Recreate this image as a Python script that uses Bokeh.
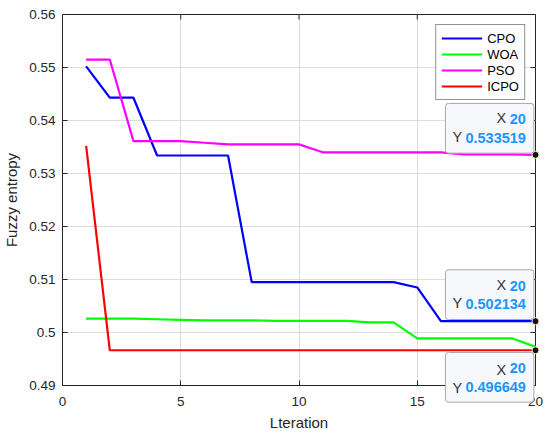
import math
from bokeh.plotting import figure
from bokeh.models import FixedTicker
from bokeh.core.properties import value
from bokeh.embed import file_html
from bokeh.resources import INLINE

# ---------------- data ----------------
iterations = list(range(1, 21))
cpo = [0.5502, 0.5443, 0.5443, 0.5334, 0.5334, 0.5334, 0.5334, 0.5095, 0.5095, 0.5095,
       0.5095, 0.5095, 0.5095, 0.5095, 0.5085, 0.502134, 0.502134, 0.502134, 0.502134, 0.502134]
woa = [0.5026, 0.5026, 0.5026, 0.5025, 0.5024, 0.5023, 0.5023, 0.5023, 0.5022, 0.5022,
       0.5022, 0.5022, 0.5019, 0.5019, 0.4989, 0.4989, 0.4989, 0.4989, 0.4989, 0.4973]
pso = [0.5515, 0.5515, 0.5361, 0.5361, 0.5361, 0.5358, 0.5355, 0.5355, 0.5355, 0.5355,
       0.5340, 0.5340, 0.5340, 0.5340, 0.5340, 0.5340, 0.5336, 0.5336, 0.5336, 0.533519]
icpo = [0.5352, 0.496649, 0.496649, 0.496649, 0.496649, 0.496649, 0.496649, 0.496649, 0.496649, 0.496649,
        0.496649, 0.496649, 0.496649, 0.496649, 0.496649, 0.496649, 0.496649, 0.496649, 0.496649, 0.496649]

series_names = ["CPO", "WOA", "PSO", "ICPO"]
series_values = [cpo, woa, pso, icpo]
series_colors = ["#0000ff", "#00ff00", "#ff00ff", "#ff0000"]

x_ticks = [0, 5, 10, 15, 20]
x_labels = ["0", "5", "10", "15", "20"]
y_ticks = [0.49, 0.5, 0.51, 0.52, 0.53, 0.54, 0.55, 0.56]
y_labels = ["0.49", "0.5", "0.51", "0.52", "0.53", "0.54", "0.55", "0.56"]

tip_x = [20, 20, 20]
tip_y = [0.533519, 0.502134, 0.496649]
tip_side = ["above", "above", "below"]

X_MIN, X_MAX = 0, 20
Y_MIN, Y_MAX = 0.49, 0.56

FONT = "Liberation Sans"
DARK = "#262626"

p = figure(frame_width=473, frame_height=371, output_backend="svg", toolbar_location=None,
           x_range=(X_MIN, X_MAX), y_range=(Y_MIN, Y_MAX),
           min_border_left=53, min_border_right=8, min_border_top=14, min_border_bottom=43,
           x_axis_label="Lteration", y_axis_label="Fuzzy entropy")
p.background_fill_color = "white"
p.border_fill_color = "white"
p.outline_line_color = DARK
p.outline_line_width = 1

p.grid.grid_line_color = "#dcdcdc"
p.grid.grid_line_width = 1

for name, vals, col in zip(series_names, series_values, series_colors):
    p.line(iterations, vals, line_color=col, line_width=2.2, legend_label=name)

# axes
p.xaxis.ticker = FixedTicker(ticks=x_ticks)
p.xaxis.major_label_overrides = dict(zip(x_ticks, x_labels))
p.yaxis.ticker = FixedTicker(ticks=y_ticks)
p.yaxis.major_label_overrides = dict(zip(y_ticks, y_labels))
p.xgrid.ticker = FixedTicker(ticks=x_ticks)
p.ygrid.ticker = FixedTicker(ticks=y_ticks)
for ax in p.xaxis + p.yaxis:
    ax.major_tick_in = 5
    ax.major_tick_out = 0
    ax.minor_tick_in = 0
    ax.minor_tick_out = 0
    ax.axis_line_color = DARK
    ax.major_tick_line_color = DARK
    ax.major_label_text_font = FONT
    ax.major_label_text_font_size = "13.5px"
    ax.major_label_text_color = DARK
    ax.axis_label_text_font = FONT
    ax.axis_label_text_font_size = "15px"
    ax.axis_label_text_font_style = "normal"
    ax.axis_label_text_color = DARK
p.xaxis.major_label_standoff = 11
p.xaxis.axis_label_standoff = 5
p.yaxis.major_label_standoff = 7
p.yaxis.axis_label_standoff = 6

# tick marks on the right and top edges of the box
p.ray(x=[X_MAX] * len(y_ticks), y=y_ticks, length=5, length_units="screen",
      angle=math.pi, line_color=DARK, line_width=1)
p.ray(x=x_ticks, y=[Y_MAX] * len(x_ticks), length=5, length_units="screen",
      angle=-math.pi / 2, line_color=DARK, line_width=1)

# legend
lg = p.legend[0]
lg.location = "top_right"
lg.margin = 10
lg.padding = 5
lg.spacing = 0
lg.glyph_width = 41
lg.glyph_height = 16
lg.label_height = 16
lg.label_standoff = 5
lg.label_text_font = FONT
lg.label_text_font_size = "13px"
lg.label_text_color = "#000000"
lg.border_line_color = DARK
lg.border_line_width = 1
lg.background_fill_color = "white"
lg.background_fill_alpha = 1

# data tips (drawn at overlay level so they may cross the axes box)
p.scatter(tip_x, tip_y, size=7, fill_color="#111111", line_color="#fff6c8", line_width=1,
          level="overlay")

BLUE = "#1a96ff"
for tx, ty, side in zip(tip_x, tip_y, tip_side):
    vtxt = f"{ty:.6f}"
    if side == "above":
        anchor, yoff = "bottom_right", -1.7
        yx, yy = -36.45, -17.95
    else:
        anchor, yoff = "top_right", 2.2
        yx, yy = 19.45, 37.95
    p.text(x=[tx], y=[ty], text=[f"{tx}\n{vtxt}"], x_offset=-1.6, y_offset=yoff,
           anchor=anchor, text_align="right",
           text_font=value(FONT), text_font_size="14.5px", text_font_style="bold",
           text_color=BLUE, text_line_height=1.17,
           padding=dict(left=20, right=8, top=8, bottom=7),
           border_radius=3, background_fill_color="#f7f8fc",
           border_line_color="#a8a8a8", border_line_width=1, level="overlay")
    p.text(x=[tx, tx], y=[ty, ty], text=["X", "Y"], x_offset=[-29.3, -73.3],
           y_offset=[yx, yy], text_align="right", text_baseline="middle",
           text_font=value(FONT), text_font_size="14.5px", text_color="#333333",
           level="overlay")

open("out.html", "w").write(file_html(p, INLINE))
